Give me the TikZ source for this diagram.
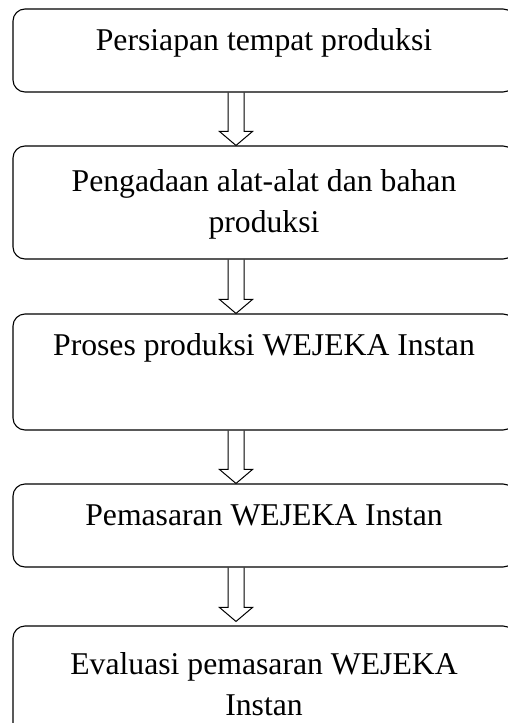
\documentclass[tikz,border=0pt]{standalone}
\usepackage{fontspec}
\setmainfont{Liberation Serif}
\usetikzlibrary{calc}
\tikzset{
  stepbox/.style={draw=black, line width=1.1pt, rounded corners=12pt, minimum width=502pt, inner sep=0pt},
  steptext/.style={anchor=base, align=center, inner sep=0pt, font=\fontsize{31.7}{41}\selectfont},
  blockarrow/.style={line width=1pt, line join=miter, to path={let \p1=(\tikztostart), \p2=(\tikztotarget) in
    (\x1-8pt,\y1) -- (\x1-8pt,\y2+14pt) -- (\x1-16.5pt,\y2+14pt) -- (\x1,\y2)
    -- (\x1+16.5pt,\y2+14pt) -- (\x1+8pt,\y2+14pt) -- (\x1+8pt,\y1)}}
}
\begin{document}
\begin{tikzpicture}[x=1pt,y=-1pt]
\useasboundingbox (0,0) rectangle (507,723);
\node[stepbox, minimum height=83pt] (persiapan) at (264,50.5) {};
\node[stepbox, minimum height=113pt] (pengadaan) at (264,202.5) {};
\node[stepbox, minimum height=116pt] (proses) at (264,372) {};
\node[stepbox, minimum height=83pt] (pemasaran) at (264,525.5) {};
\node[stepbox, minimum height=109pt] (evaluasi) at (264,680.5) {};
\node[steptext] at (264,50.7) {Persiapan tempat produksi};
\node[steptext] at (264,232) {Pengadaan alat-alat dan bahan\\produksi};
\node[steptext] at (264,355.5) {Proses produksi WEJEKA Instan};
\node[steptext] at (264,525.7) {Pemasaran WEJEKA Instan};
\node[steptext] at (264,715) {Evaluasi pemasaran WEJEKA\\Instan};
\draw[blockarrow] ([xshift=-28pt]persiapan.south) to ([xshift=-28pt]pengadaan.north);
\draw[blockarrow] ([xshift=-28pt]pengadaan.south) to ([xshift=-28pt]proses.north);
\draw[blockarrow] ([xshift=-28pt]proses.south) to ([xshift=-28pt]pemasaran.north);
\draw[blockarrow] ([xshift=-28pt]pemasaran.south) to ([xshift=-28pt,yshift=4pt]evaluasi.north);
\end{tikzpicture}
\end{document}
